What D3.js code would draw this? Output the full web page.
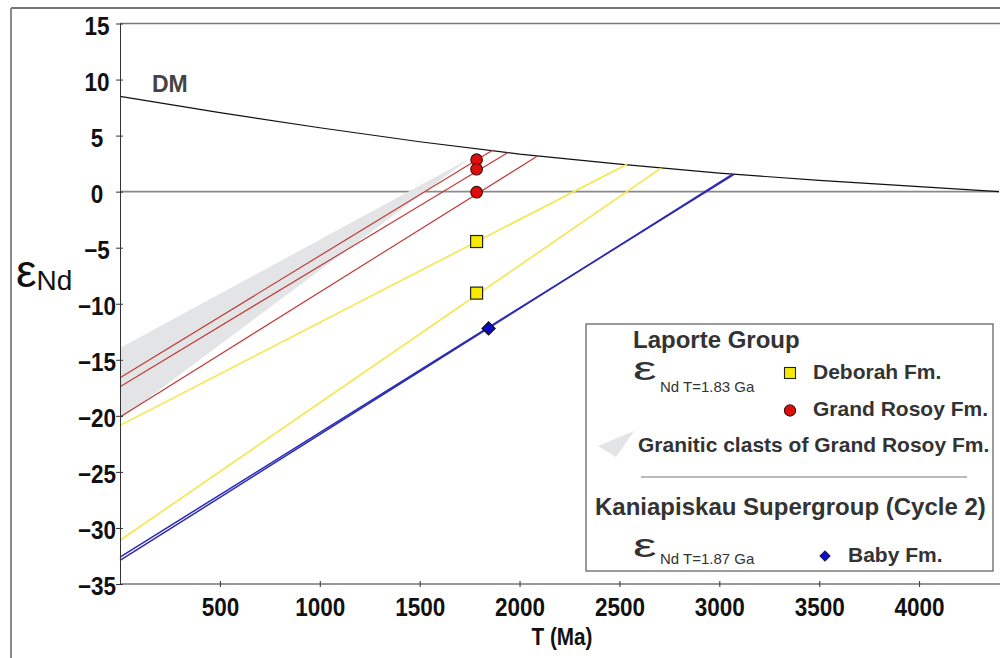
<!DOCTYPE html>
<html><head><meta charset="utf-8">
<script src="https://cdn.jsdelivr.net/npm/d3@7"></script>
<style>
html,body{margin:0;padding:0;background:#fff;}
svg{display:block;font-family:"Liberation Sans",Arial,sans-serif;}
</style></head>
<body><svg id="c" width="1000" height="658"></svg>
<script>
// ---------- data ----------
const xTicks = [500,1000,1500,2000,2500,3000,3500,4000];
const yTicks = [15,10,5,0,-5,-10,-15,-20,-25,-30,-35];
// Depleted mantle curve (T Ma, eps)
const dmT = [0,500,1000,1500,2000,2500,3000,3500,4000,4400];
const dmE = [8.5,7.05,5.7,4.45,3.35,2.45,1.65,1.0,0.45,0.0];
// Evolution lines: start (T=0) value, end on DM
const redStart = [-16.6,-17.4,-20.1];
const redEndT  = [1867,1942,2092];
const redEndE  = [3.72,3.5,3.2];
const yelStart = [-20.85,-31.1];
const yelEndT  = [2538,2708];
const yelEndE  = [2.45,2.1];
const bluStart = [-32.6,-32.9];
const bluEndT  = [3074,3068];
const bluEndE  = [1.55,1.58];
// Samples
const grT = 1785, grE = [2.85,2.0,-0.05];     // Grand Rosoy Fm.
const dbT = 1785, dbE = [-4.45,-9.05];        // Deborah Fm.
const bbT = 1845, bbE = [-12.2];              // Baby Fm.
// Granitic clasts envelope
const bandT = [0,1752,0];
const bandE = [-13.95,2.98,-20.3];

// ---------- scales ----------
const svg = d3.select("#c");
const x = d3.scaleLinear().domain([0,4400]).range([120,999]);
const y = d3.scaleLinear().domain([-35,15]).range([584,23.5]);
const TXT = "#333";
const FONT = "Liberation Sans, Arial, sans-serif";

// outer frame
svg.append("line").attr("x1",11).attr("x2",1000).attr("y1",8).attr("y2",8).attr("stroke","#777").attr("stroke-width",2);
svg.append("line").attr("x1",11).attr("x2",11).attr("y1",8).attr("y2",658).attr("stroke","#8a8a8a").attr("stroke-width",2);

// plot top border
svg.append("line").attr("x1",x(0)).attr("x2",1000).attr("y1",y(15)).attr("y2",y(15)).attr("stroke","#777").attr("stroke-width",1.5);

// zero line
svg.append("line").attr("x1",x(0)).attr("x2",x(4400)).attr("y1",y(0)).attr("y2",y(0)).attr("stroke","#8a8a8a").attr("stroke-width",1.6);

// band
svg.append("polygon")
  .attr("points", bandT.map((t,i)=>[x(t),y(bandE[i])].join(",")).join(" "))
  .attr("fill","#e3e4e6");

// DM
const line = d3.line().x(d=>x(d[0])).y(d=>y(d[1]));
svg.append("path").datum(dmT.map((t,i)=>[t,dmE[i]])).attr("d",line)
  .attr("fill","none").attr("stroke","#111").attr("stroke-width",1.2);

function segs(starts, endT, endE, color, w){
  starts.forEach((s,i)=>{
    svg.append("path").datum([[0,s],[endT[i],endE[i]]]).attr("d",line)
      .attr("fill","none").attr("stroke",color).attr("stroke-width",w);
  });
}
segs(yelStart,yelEndT,yelEndE,"#f3e84a",1.6);
segs(bluStart,bluEndT,bluEndE,"#2b2bb4",1.5);
segs(redStart,redEndT,redEndE,"#c23a3a",1.2);

// axes
const gx = svg.append("g").attr("transform",`translate(0,${y(-35)})`)
  .call(d3.axisBottom(x).tickValues(xTicks).tickFormat(d3.format("d")).tickSize(3).tickSizeOuter(0));
gx.select(".domain").attr("d",`M${x(0)},0H1000`).attr("stroke","#333");
gx.selectAll(".tick line").attr("y1",-3).attr("y2",3).attr("stroke","#333");
gx.selectAll(".tick text").attr("font-size",25).attr("font-weight","bold")
  .attr("fill","#111").attr("font-family",FONT).attr("dy","0.71em").attr("y",14)
  .attr("transform","scale(0.9,1)");

const gy = svg.append("g").attr("transform",`translate(${x(0)},0)`)
  .call(d3.axisLeft(y).tickValues(yTicks).tickSize(4).tickSizeOuter(0));
gy.select(".domain").attr("stroke","#333");
gy.selectAll(".tick line").attr("x1",3).attr("x2",-4).attr("stroke","#333");
gy.selectAll(".tick text").attr("font-size",25).attr("font-weight","bold")
  .attr("fill","#111").attr("font-family",FONT)
  .attr("text-anchor","middle").attr("x",-25.5).attr("dy","0.42em")
  .attr("transform","scale(0.9,1)");

// axis titles
svg.append("text").attr("transform","translate(562,645) scale(0.9,1)").attr("text-anchor","middle")
  .attr("font-size",23).attr("font-weight","bold").attr("fill","#111").text("T (Ma)");
const yt = svg.append("text").attr("x",16).attr("y",287).attr("fill","#111");
yt.append("tspan").attr("font-size",46).text("ε");
yt.append("tspan").attr("font-size",28).attr("dy",3).text("Nd");

// DM label
svg.append("text").attr("x",152).attr("y",92).attr("font-size",23).attr("font-weight","bold").attr("fill","#444").text("DM");

// markers
svg.selectAll("rect.db").data(dbE).join("rect").attr("class","db")
  .attr("x",x(dbT)-6).attr("y",d=>y(d)-6).attr("width",12).attr("height",12)
  .attr("fill","#f7ea00").attr("stroke","#222").attr("stroke-width",1.2);
svg.selectAll("circle.gr").data(grE).join("circle").attr("class","gr")
  .attr("cx",x(grT)).attr("cy",d=>y(d)).attr("r",5.8)
  .attr("fill","#e00b0b").attr("stroke","#3a1010").attr("stroke-width",1.1);
const diamond = d3.symbol().type(d3.symbolDiamond2).size(110);
svg.selectAll("path.bb").data(bbE).join("path").attr("class","bb")
  .attr("transform",d=>`translate(${x(bbT)},${y(d)})`).attr("d",diamond)
  .attr("fill","#0a0ad0").attr("stroke","#111").attr("stroke-width",1.2);

// ---------- legend ----------
const L = svg.append("g");
L.append("rect").attr("x",586).attr("y",324).attr("width",407).attr("height",247)
  .attr("fill","#fff").attr("stroke","#666").attr("stroke-width",1.3);
function t(xx,yy,s,size,bold){
  return L.append("text").attr("x",xx).attr("y",yy).attr("font-size",size)
    .attr("font-weight",bold?"bold":"normal").attr("fill",TXT).text(s);
}
function eps(xx,yy){
  return L.append("text").attr("transform",`translate(${xx},${yy}) scale(1.6,1)`)
    .attr("font-size",33).attr("fill",TXT).text("ε");
}
t(633,348,"Laporte Group",24,true);
eps(633,380);
t(660,392,"Nd T=1.83 Ga",15,false);
L.append("rect").attr("x",784.5).attr("y",367.5).attr("width",11).attr("height",11)
  .attr("fill","#f7ea00").attr("stroke","#222").attr("stroke-width",1.1);
t(813,379,"Deborah Fm.",21,true);
L.append("circle").attr("cx",790).attr("cy",410.5).attr("r",5.6)
  .attr("fill","#e00b0b").attr("stroke","#3a1010").attr("stroke-width",1.1);
t(813,415.5,"Grand Rosoy Fm.",21,true);
L.append("polygon").attr("points","598,446 634,431 616,457").attr("fill","#e3e4e6");
t(638,452,"Granitic clasts of Grand Rosoy Fm.",21,true);
L.append("line").attr("x1",641).attr("x2",967).attr("y1",477).attr("y2",477).attr("stroke","#777").attr("stroke-width",1.2);
t(595,515,"Kaniapiskau Supergroup (Cycle 2)",24,true);
eps(633,557);
t(660,564,"Nd T=1.87 Ga",15,false);
L.append("path").attr("transform","translate(825,556)").attr("d",d3.symbol().type(d3.symbolDiamond2).size(70))
  .attr("fill","#0a0ad0").attr("stroke","#111").attr("stroke-width",1);
t(848,561.5,"Baby Fm.",21,true);
</script></body></html>
